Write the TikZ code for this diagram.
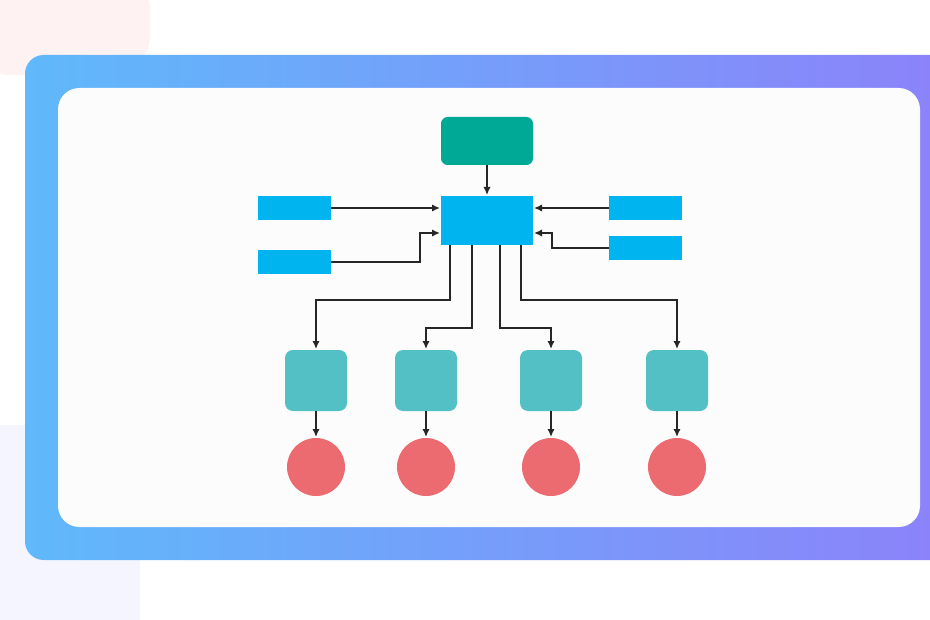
\documentclass[tikz,border=0pt]{standalone}
\usetikzlibrary{arrows.meta}
\begin{document}
\begin{tikzpicture}[x=0.75pt,y=-0.75pt,
  conn/.style={draw=black!85,line width=1.7pt,-{Latex[length=6pt,width=5.5pt]}},
  blu/.style={fill={rgb,255:red,0;green,180;blue,240}},
  tea/.style={fill={rgb,255:red,82;green,192;blue,196},rounded corners=6pt},
  ci/.style={fill={rgb,255:red,235;green,107;blue,112}}]
\useasboundingbox (0,0) rectangle (930,620);
\fill[white] (0,0) rectangle (930,620);
\fill[red!5,rounded corners=30pt] (-30,-30) rectangle (150,75);
\fill[blue!4] (0,425) rectangle (140,620);
\shade[left color={rgb,255:red,95;green,185;blue,250},right color={rgb,255:red,140;green,130;blue,250},rounded corners=14pt] (25,55) rectangle (950,560);
\fill[white!98!gray,rounded corners=16pt] (58,88) rectangle (920,527);
\path[fill={rgb,255:red,0;green,168;blue,150},rounded corners=5pt] (441,117) rectangle (533,165);
\path[blu] (441,196) rectangle (533,245);
\path[blu] (258,196) rectangle (331,220);
\path[blu] (258,250) rectangle (331,274);
\path[blu] (609,196) rectangle (682,220);
\path[blu] (609,236) rectangle (682,260);
\foreach \x in {316,426,551,677}{
  \path[tea] (\x-31,350) rectangle (\x+31,411);
  \path[ci] (\x,467) circle (29);
  \draw[conn] (\x,411) -- (\x,437);
}
\draw[conn] (487,165) -- (487,195);
\draw[conn] (331,208) -- (440,208);
\draw[conn] (331,262) -- (420,262) -- (420,233) -- (440,233);
\draw[conn] (609,208) -- (534,208);
\draw[conn] (609,248) -- (552,248) -- (552,233) -- (534,233);
\draw[conn] (450,245) -- (450,300) -- (316,300) -- (316,349);
\draw[conn] (472,245) -- (472,328) -- (426,328) -- (426,349);
\draw[conn] (500,245) -- (500,328) -- (551,328) -- (551,349);
\draw[conn] (521,245) -- (521,300) -- (677,300) -- (677,349);
\end{tikzpicture}
\end{document}
